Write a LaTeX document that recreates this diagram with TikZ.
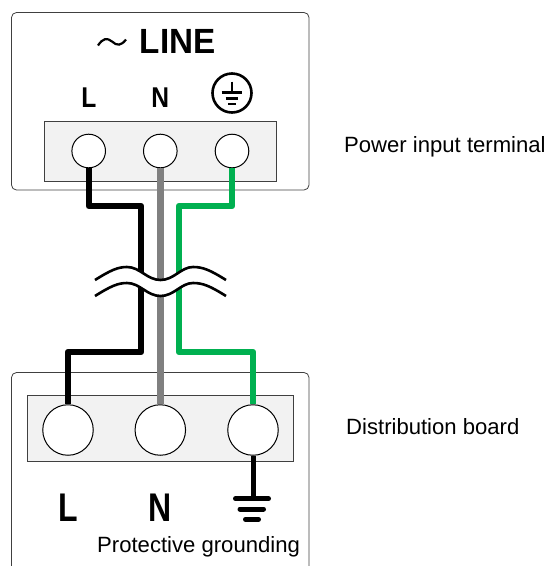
\documentclass[tikz,border=0pt]{standalone}
\usepackage{fontspec}
\setmainfont{Liberation Sans}
\tikzset{
	panel/.style={draw=black!75,line width=.8pt,rounded corners=5pt},
	strip/.style={draw=black!75,fill=black!5,line width=.9pt},
	term/.style={circle,draw=black,fill=white,line width=1pt,inner sep=0pt},
	wire/.style={line width=6.4pt,line join=round},
	caption/.style={anchor=base west,inner sep=0pt,font=\fontsize{22.1}{26}\selectfont},
	bigtag/.style={anchor=base,inner sep=0pt,font=\bfseries\fontsize{40}{48}\selectfont,xscale=.8},
	smalltag/.style={anchor=base,inner sep=0pt,font=\bfseries\fontsize{28.6}{34}\selectfont,xscale=.86}
}
\begin{document}
\begin{tikzpicture}[x=1pt,y=-1pt]
	\useasboundingbox (0,0) rectangle (547,566);
	% panels
	\draw[panel] (11.5,12.5) rectangle (309,190);
	\draw[panel] (11.5,566) -- (11.5,372.5) -- (309,372.5) -- (309,566);
	\draw[strip] (44.5,121.5) rectangle (276,181);
	\draw[strip] (27.5,395.5) rectangle (293,461.5);
	% terminals
	\node[term,minimum size=33.6pt] (inL) at (88.7,151) {};
	\node[term,minimum size=33.6pt] (inN) at (160.3,151) {};
	\node[term,minimum size=33.6pt] (inE) at (232,151) {};
	\node[term,minimum size=50.5pt] (boardL) at (68,430) {};
	\node[term,minimum size=50.5pt] (boardN) at (160.3,430) {};
	\node[term,minimum size=50.5pt] (boardE) at (253,430) {};
	% wires
	\coordinate (a1) at (88.7,206);
	\coordinate (a2) at (141,206);
	\coordinate (a3) at (141,352);
	\coordinate (a4) at (68,352);
	\coordinate (b1) at (232,206);
	\coordinate (b2) at (179,206);
	\coordinate (b3) at (179,352);
	\coordinate (b4) at (253,352);
	\draw[wire,black] (inL.south)--(a1)--(a2)--(a3)--(a4)--(boardL.north);
	\draw[wire,black!50,line width=7pt] (inN.south)--(boardN.north);
	\draw[wire,color={rgb,255:red,0;green,176;blue,80}] (inE.south)--(b1)--(b2)--(b3)--(b4)--(boardE.north);
	% break mark
	\fill[white] (95,280) .. controls (111,270) and (118,267) .. (127,267) .. controls (140,267) and (147,280) .. (160.5,280) .. controls (174,280) and (181,267) .. (193,267) .. controls (203,267) and (210,270) .. (226,280)
		-- (226,296) .. controls (210,286) and (203,283) .. (193,283) .. controls (181,283) and (174,296) .. (160.5,296) .. controls (147,296) and (140,283) .. (127,283) .. controls (118,283) and (111,286) .. (95,296) -- cycle;
	\draw[line width=2.6pt] (95,280) .. controls (111,270) and (118,267) .. (127,267) .. controls (140,267) and (147,280) .. (160.5,280) .. controls (174,280) and (181,267) .. (193,267) .. controls (203,267) and (210,270) .. (226,280);
	\draw[line width=2.6pt] (95,296) .. controls (111,286) and (118,283) .. (127,283) .. controls (140,283) and (147,296) .. (160.5,296) .. controls (174,296) and (181,283) .. (193,283) .. controls (203,283) and (210,286) .. (226,296);
	% top labels
	\draw[line width=2.2pt] (98,45.5) .. controls (103,38) and (107,37.5) .. (112,41.5) .. controls (117,46) and (121,46) .. (126,39.5);
	\node[anchor=base west,inner sep=0pt,font=\bfseries\fontsize{35}{42}\selectfont,xscale=.95] (line) at (139.5,53) {LINE};
	\node[smalltag] (tagL) at (89,107) {L};
	\node[smalltag] (tagN) at (160.3,107) {N};
	\node[circle,draw=black,line width=2.6pt,minimum size=39pt,inner sep=0pt] (earth) at (232,93) {};
	\draw[line width=2.6pt] (232,81.5)--(232,92.7);
	\draw[line width=2.6pt] (221.7,92.7)--(242.3,92.7);
	\draw[line width=2.6pt] (225.7,98.3)--(238.3,98.3);
	\draw[line width=2.6pt] (228.3,104)--(235.7,104);
	% bottom labels
	\node[bigtag] (bigL) at (68,521) {L};
	\node[bigtag] (bigN) at (160.3,521) {N};
	\coordinate (gnd) at (253,498.7);
	\draw[line width=5pt] (boardE.south)--(gnd);
	\draw[line width=5pt,line cap=round] (235.5,498.7)--(268.5,498.7);
	\draw[line width=5pt,line cap=round] (240,509)--(263.5,509);
	\draw[line width=5pt,line cap=round] (245.5,519.3)--(258.5,519.3);
	% captions
	\node[caption] (inlabel) at (344,152.5) {Power input terminal};
	\node[caption] (boardlabel) at (346,434.5) {Distribution board};
	\node[caption] (gndlabel) at (97,552.5) {Protective grounding};
\end{tikzpicture}
\end{document}
